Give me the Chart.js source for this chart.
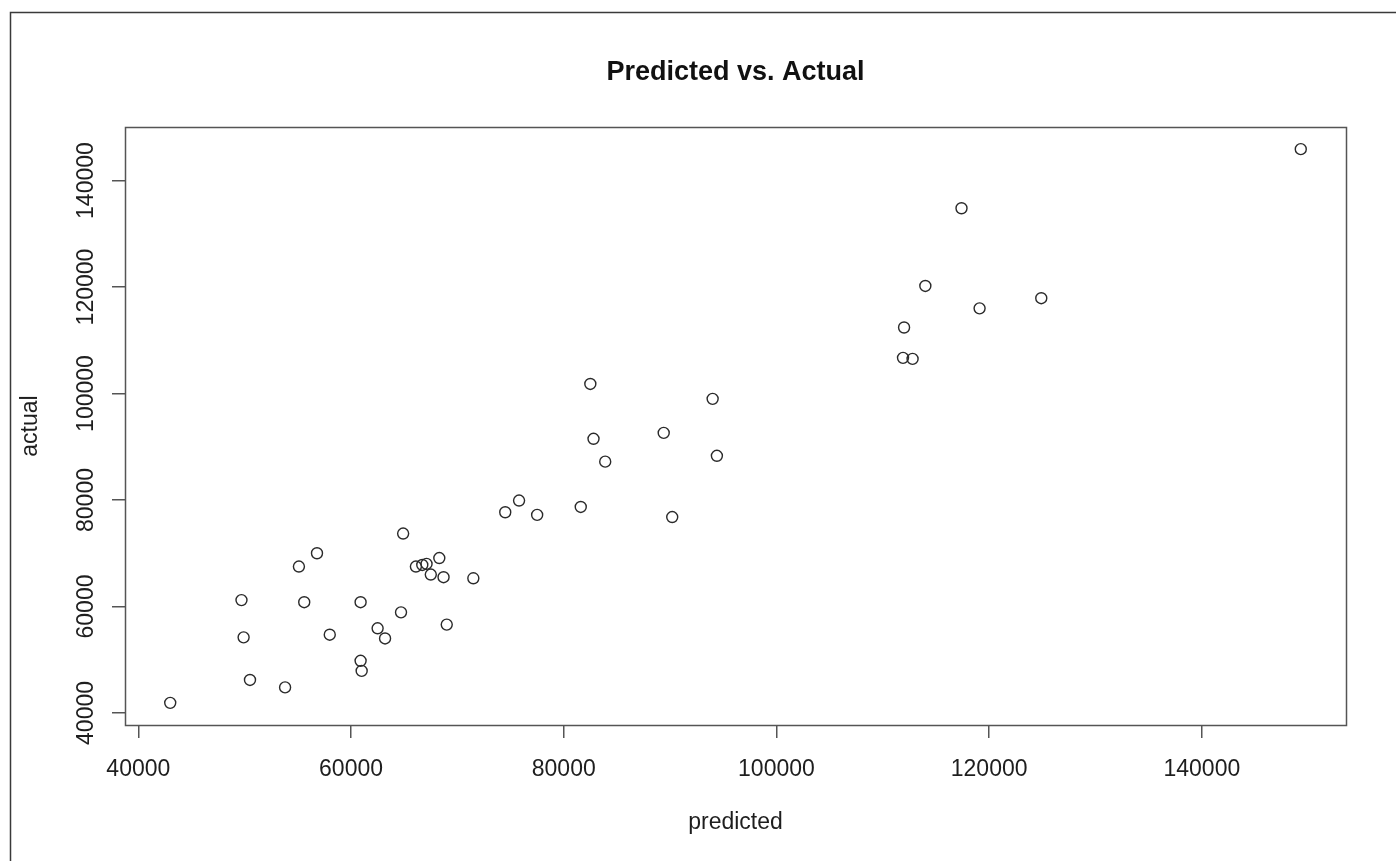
<!DOCTYPE html>
<html>
<head>
<meta charset="utf-8">
<title>Predicted vs. Actual</title>
<script src="https://cdn.jsdelivr.net/npm/chart.js@4.4.1/dist/chart.umd.min.js"></script>
<style>
  html, body { margin: 0; padding: 0; background: #fff; }
  canvas { display: block; }
</style>
</head>
<body>
<canvas id="chart" width="1396" height="861"></canvas>
<script>
// Model predictions and the observed values they are compared with
const predicted = [
  43000, 49700, 49900, 50500, 53800, 55100, 55600, 56800, 58000, 60900,
  60900, 61000, 62500, 63200, 64900, 64700, 66100, 66700, 67100, 67500,
  68300, 68700, 69000, 71500, 74500, 75800, 77500, 81600, 82500, 82800,
  83900, 89400, 90200, 94000, 94400, 112000, 111900, 112800, 114000, 117400,
  119100, 124900, 149300
];
const actual = [
  41900, 61200, 54200, 46200, 44800, 67500, 60800, 70000, 54700, 60800,
  49800, 47900, 55900, 54000, 73700, 58900, 67500, 67800, 68000, 66000,
  69100, 65500, 56600, 65300, 77700, 79900, 77200, 78700, 101800, 91500,
  87200, 92600, 76800, 99000, 88300, 112400, 106700, 106500, 120200, 134800,
  116000, 117900, 145900
];

const xTickValues = [40000, 60000, 80000, 100000, 120000, 140000];
const yTickValues = [40000, 60000, 80000, 100000, 120000, 140000];

const chartTitle = 'Predicted vs. Actual';
const xTitle = 'predicted';
const yTitle = 'actual';

const FONT = '"Liberation Sans", Arial, Helvetica, sans-serif';
const INK = '#1e1e1e';
const FRAME = '#555555';

// Axis range widened by 4% of the data span on each side
function paddedRange(values) {
  const lo = Math.min(...values);
  const hi = Math.max(...values);
  const d = (hi - lo) * 0.04;
  return [lo - d, hi + d];
}
const [xMin, xMax] = paddedRange(predicted);
const [yMin, yMax] = paddedRange(actual);

const points = predicted.map((p, i) => ({ x: p, y: actual[i] }));

// Page frame plus the closed box around the plotting region
const framePlugin = {
  id: 'frame',
  beforeDraw(chart) {
    const ctx = chart.ctx;
    ctx.save();
    ctx.fillStyle = '#ffffff';
    ctx.fillRect(0, 0, chart.width, chart.height);
    ctx.strokeStyle = '#3a3a3a';
    ctx.lineWidth = 1.5;
    ctx.beginPath();
    ctx.moveTo(10.5, chart.height);
    ctx.lineTo(10.5, 12.5);
    ctx.lineTo(chart.width, 12.5);
    ctx.stroke();
    ctx.restore();
  },
  afterDatasetsDraw(chart) {
    const a = chart.chartArea;
    const ctx = chart.ctx;
    ctx.save();
    ctx.strokeStyle = FRAME;
    ctx.lineWidth = 1.5;
    ctx.strokeRect(Math.round(a.left) + 0.5, Math.round(a.top) + 0.5,
                   Math.round(a.right - a.left), Math.round(a.bottom - a.top));
    ctx.restore();
  }
};

new Chart(document.getElementById('chart'), {
  type: 'scatter',
  data: {
    datasets: [{
      data: points,
      pointStyle: 'circle',
      pointRadius: 5.5,
      pointHoverRadius: 5.5,
      pointBorderWidth: 1.4,
      pointBorderColor: '#2a2a2a',
      pointBackgroundColor: 'rgba(0,0,0,0)'
    }]
  },
  options: {
    responsive: false,
    animation: false,
    devicePixelRatio: 1,
    events: [],
    layout: { padding: { top: 0, left: 0, right: 50, bottom: 0 } },
    plugins: {
      legend: { display: false },
      tooltip: { enabled: false },
      title: {
        display: true,
        text: chartTitle,
        fullSize: false,
        color: '#111',
        font: { family: FONT, size: 27, weight: 'bold', lineHeight: 1.2 },
        padding: { top: 56, bottom: 38.6 }
      }
    },
    scales: {
      x: {
        type: 'linear',
        position: 'bottom',
        min: xMin,
        max: xMax,
        afterBuildTicks(scale) { scale.ticks = xTickValues.map(v => ({ value: v })); },
        afterFit(scale) { scale.height = 136; },
        border: { display: false },
        grid: {
          drawOnChartArea: false,
          drawTicks: true,
          tickLength: 13,
          color: FRAME,
          lineWidth: 1.5
        },
        ticks: {
          color: INK,
          padding: 18,
          maxRotation: 0,
          minRotation: 0,
          font: { family: FONT, size: 23 },
          callback: v => String(v)
        },
        title: {
          display: true,
          text: xTitle,
          color: INK,
          font: { family: FONT, size: 23, lineHeight: 1.2 },
          padding: { top: 0, bottom: 25 }
        }
      },
      y: {
        type: 'linear',
        position: 'left',
        min: yMin,
        max: yMax,
        afterBuildTicks(scale) { scale.ticks = yTickValues.map(v => ({ value: v })); },
        afterFit(scale) { scale.width = 125; },
        border: { display: false },
        grid: {
          drawOnChartArea: false,
          drawTicks: true,
          tickLength: 13,
          color: FRAME,
          lineWidth: 1.5
        },
        ticks: {
          color: INK,
          padding: -13,
          minRotation: 90,
          maxRotation: 90,
          crossAlign: 'center',
          font: { family: FONT, size: 23 },
          callback: v => String(v)
        },
        title: {
          display: true,
          text: yTitle,
          color: INK,
          font: { family: FONT, size: 23, lineHeight: 1.2 },
          padding: { top: 17, bottom: 0 }
        }
      }
    }
  },
  plugins: [framePlugin]
});
</script>
</body>
</html>
